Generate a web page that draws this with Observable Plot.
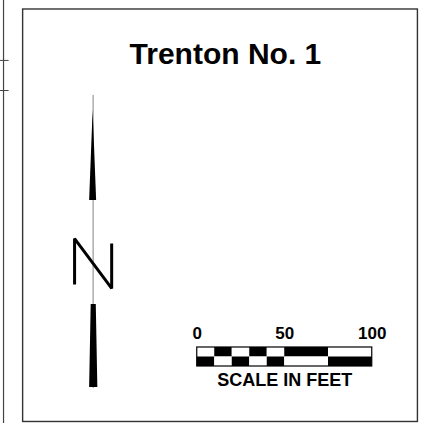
<!DOCTYPE html>
<html>
<head>
<meta charset="utf-8">
<script src="https://cdn.jsdelivr.net/npm/d3@7"></script>
<script src="https://cdn.jsdelivr.net/npm/@observablehq/plot@0.6"></script>
<style>
  html, body { margin: 0; padding: 0; background: #fff; }
  svg { display: block; }
</style>
</head>
<body>
<div id="chart"></div>
<script>
// All coordinates are in map feet (the scale bar's unit).
const title = "Trenton No. 1";
const scaleCaption = "SCALE IN FEET";
const scaleTicks = [0, 50, 100];
const segStart = [0, 10, 20, 30, 40, 50, 75];
const segEnd   = [10, 20, 30, 40, 50, 75, 100];
const topRowBlack = [false, true, false, true, false, true, false];
const rowHeight = 5.43;

// north arrow (feet)
const arrowX = -59.5;
const shaft = [{x: arrowX, y: 154.9}, {x: arrowX, y: -12}];
const upperSpike = [{y: 146.3, x1: -59.5, x2: -59.5}, {y: 94.9, x1: -61.5, x2: -57.5}];
const lowerSpike = [{y: 35.4, x1: -60.6, x2: -57.7}, {y: -12, x1: -61.5, x2: -56.8}];
const nLetter = [{x: -70.1, y: 46.9}, {x: -70.1, y: 73.1}, {x: -48.9, y: 44.6}, {x: -48.9, y: 70.3}];

// frame (feet)
const frame = [{x1: -99.5, x2: 126.1, y1: -31.7, y2: 204}];
const outerEdge = [-110.7];
const edgeTicks = [174.9, 157.7];

const cells = [];
segStart.forEach((s, i) => {
  cells.push({x1: s, x2: segEnd[i], y1: rowHeight, y2: 2 * rowHeight, black: topRowBlack[i]});
  cells.push({x1: s, x2: segEnd[i], y1: 0, y2: rowHeight, black: !topRowBlack[i]});
});

const font = "Liberation Sans, Arial, Helvetica, sans-serif";

const chart = Plot.plot({
  width: 425,
  height: 423,
  margin: 0,
  style: {background: "#fff", overflow: "visible"},
  x: {domain: [-112.43, 130.43], axis: null},
  y: {domain: [-32.57, 209.14], axis: null},
  marks: [
    Plot.ruleX(outerEdge, {stroke: "#444", strokeWidth: 1.2}),
    Plot.ruleY(edgeTicks, {x1: -112.4, x2: -107.5, stroke: "#444", strokeWidth: 1}),
    Plot.rect(frame, {x1: "x1", x2: "x2", y1: "y1", y2: "y2", fill: "none", stroke: "#333", strokeWidth: 1.4}),
    Plot.text([title], {x: 16.1, y: 173.1, text: d => d, fontSize: 30, fontWeight: "bold", fontFamily: font, fill: "#000", lineAnchor: "bottom"}),
    Plot.line(shaft, {x: "x", y: "y", stroke: "#999", strokeWidth: 1.2}),
    Plot.areaX(upperSpike, {y: "y", x1: "x1", x2: "x2", fill: "#000"}),
    Plot.areaX(lowerSpike, {y: "y", x1: "x1", x2: "x2", fill: "#000"}),
    Plot.line(nLetter, {x: "x", y: "y", stroke: "#000", strokeWidth: 3, strokeLinejoin: "miter", strokeLinecap: "butt"}),
    Plot.rect(cells, {x1: "x1", x2: "x2", y1: "y1", y2: "y2", fill: d => d.black ? "#000" : "#fff"}),
    Plot.rect([{x1: 0, x2: 100, y1: 0, y2: 2 * rowHeight}], {x1: "x1", x2: "x2", y1: "y1", y2: "y2", fill: "none", stroke: "#000", strokeWidth: 1.2}),
    Plot.text(scaleTicks, {x: d => d, y: 16, text: d => String(d), fontSize: 17, fontWeight: "bold", fontFamily: font, fill: "#000", lineAnchor: "bottom"}),
    Plot.text([scaleCaption], {x: 50, y: -10.86, text: d => d, fontSize: 18, fontWeight: "bold", fontFamily: font, fill: "#000", lineAnchor: "bottom", letterSpacing: "0.7px"})
  ]
});
document.getElementById("chart").append(chart);
</script>
</body>
</html>
